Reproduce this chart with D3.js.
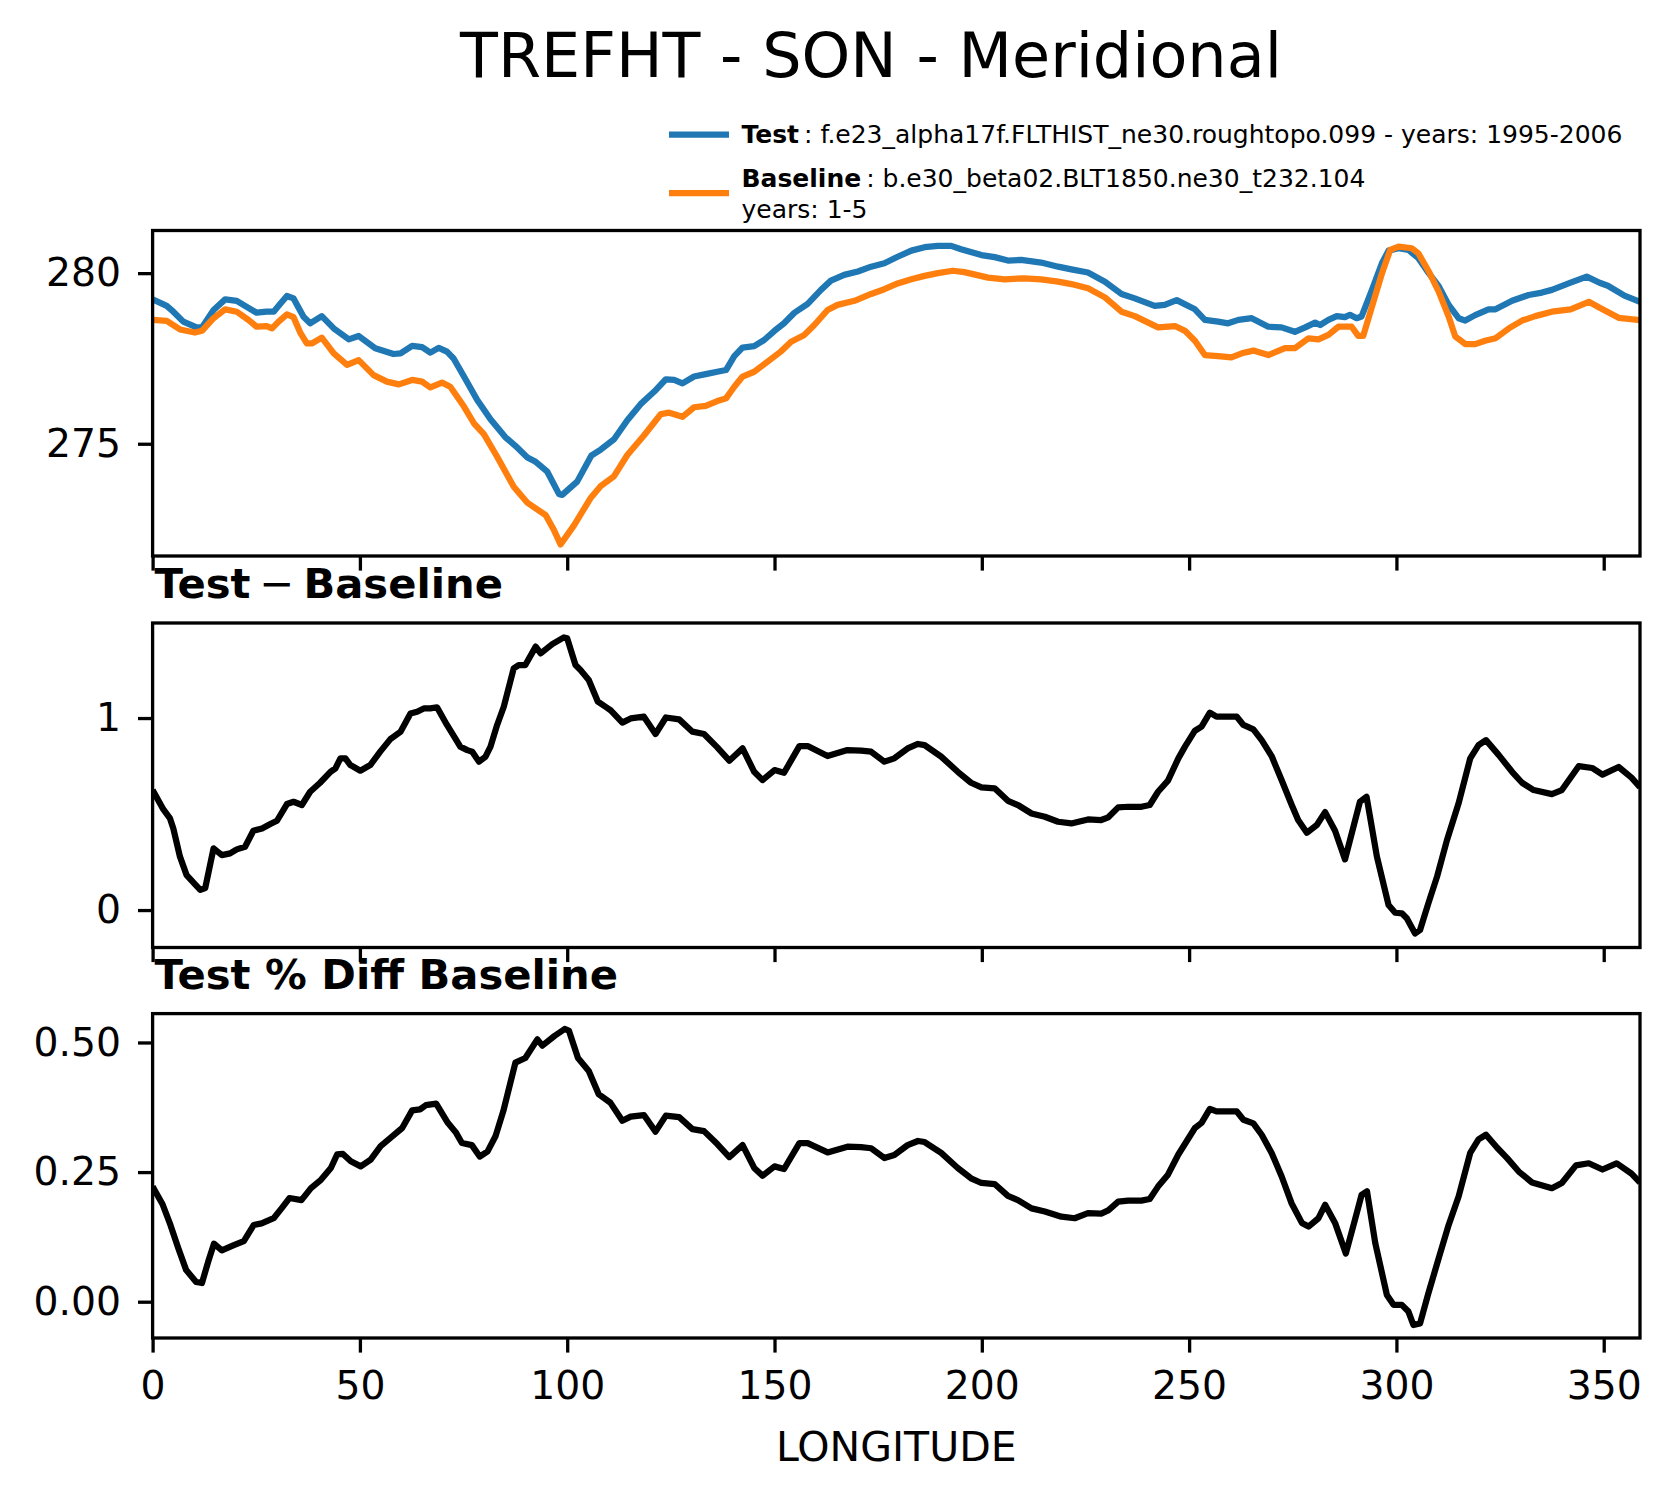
<!DOCTYPE html>
<html>
<head>
<meta charset="utf-8">
<script src="https://cdn.jsdelivr.net/npm/d3@7"></script>
<style>
  body { margin: 0; background: #fff; }
  text { font-family: "DejaVu Sans", sans-serif; }
</style>
</head>
<body>
<div id="chart"></div>
<script>
// longitude ticks
const lonTicks = [0, 50, 100, 150, 200, 250, 300, 350];

// panel 1: TREFHT (K), [longitude, value]
const testT = [[0,279.23],[3.4,279.04],[5,278.87],[7.4,278.58],[10.6,278.41],[11.9,278.41],[14.7,278.92],[17.5,279.23],[20.3,279.19],[22.3,279.04],[25.1,278.84],[27.5,278.87],[29.2,278.87],[30.8,279.1],[32.4,279.33],[34,279.26],[36.4,278.72],[38,278.53],[40.8,278.74],[43.7,278.38],[47.3,278.06],[49.7,278.16],[53.7,277.8],[58.1,277.63],[59.8,277.65],[62.6,277.87],[65,277.83],[67,277.67],[69,277.81],[71,277.7],[72.6,277.5],[75.1,276.97],[78.3,276.28],[81.5,275.72],[85.1,275.19],[87.5,274.94],[90.4,274.6],[92.4,274.47],[95.2,274.18],[98,273.53],[98.8,273.5],[102.4,273.89],[105.8,274.65],[108.1,274.83],[111.3,275.13],[114.5,275.69],[117.7,276.16],[121,276.53],[123.8,276.89],[125.8,276.87],[127.8,276.77],[130.6,276.97],[133.4,277.04],[136.2,277.11],[138.3,277.16],[140.3,277.57],[142.3,277.82],[145.1,277.86],[147.5,278.04],[150,278.31],[152.3,278.53],[154.8,278.84],[158,279.1],[161.2,279.51],[163.6,279.78],[166.8,279.95],[170.1,280.05],[173.3,280.19],[176.5,280.29],[179.7,280.48],[183,280.66],[186.2,280.76],[189.4,280.8],[192.6,280.8],[195,280.7],[199.9,280.53],[203.1,280.47],[206.3,280.37],[209.5,280.39],[214.3,280.31],[218.4,280.19],[221.6,280.11],[225.6,280.02],[229.7,279.75],[233.7,279.39],[236.9,279.26],[241.7,279.04],[244.1,279.07],[247,279.21],[251.4,278.94],[253.8,278.63],[257,278.58],[259.4,278.53],[261.9,278.63],[265.1,278.68],[269.1,278.43],[272.3,278.41],[275.5,278.28],[278,278.41],[280.4,278.55],[281.6,278.48],[283.6,278.63],[285.6,278.74],[287.6,278.71],[288.8,278.78],[290.4,278.68],[291.6,278.73],[294.1,279.51],[296.5,280.29],[298.1,280.66],[300.5,280.73],[302.9,280.68],[305.3,280.44],[307.8,280],[310.2,279.62],[312.6,279.07],[315,278.68],[316.6,278.61],[319,278.77],[322.2,278.94],[323.9,278.94],[327.9,279.19],[331.9,279.36],[335.1,279.43],[337.5,279.51],[342,279.72],[345.9,279.9],[349,279.72],[351,279.63],[355,279.34],[358.75,279.16]];

const baseT = [[0,278.63],[3.4,278.6],[6.6,278.35],[10.2,278.26],[11.9,278.31],[14.7,278.68],[17.5,278.94],[20.3,278.87],[23.1,278.63],[25.1,278.43],[27.5,278.45],[28.8,278.38],[30.4,278.58],[32.4,278.79],[34,278.71],[35.6,278.26],[37.2,277.94],[38.4,277.94],[40.8,278.11],[43.7,277.65],[46.9,277.31],[49.7,277.45],[53.3,277.01],[56.5,276.82],[59.4,276.74],[62.6,276.87],[65,276.82],[67,276.65],[69.8,276.79],[71.8,276.67],[75.1,276.09],[77.5,275.6],[79.9,275.28],[83.1,274.62],[87.1,273.74],[90.4,273.27],[94.8,272.91],[96.8,272.47],[98.4,272.05],[101.6,272.6],[105.6,273.4],[108.1,273.76],[111.3,274.05],[114.5,274.67],[118.5,275.24],[122.6,275.87],[124.6,275.91],[127.8,275.79],[130.6,276.07],[133.4,276.11],[136.2,276.25],[138.3,276.33],[140.3,276.67],[142.3,276.97],[145.1,277.11],[148.3,277.4],[151.5,277.7],[154,277.99],[157.2,278.19],[159.6,278.48],[162.8,278.92],[165.2,279.07],[169.3,279.19],[173.3,279.39],[176.5,279.53],[179.7,279.7],[183,279.82],[186.2,279.92],[189.4,280],[193,280.07],[195.8,280.03],[201.5,279.87],[205.5,279.82],[210.3,279.85],[214.3,279.82],[218.4,279.75],[221.6,279.68],[225.6,279.56],[229.7,279.29],[233.7,278.87],[236.9,278.74],[242.5,278.41],[246.6,278.45],[249,278.31],[251.4,278.02],[253.8,277.6],[257,277.57],[260.2,277.53],[262.7,277.65],[265.5,277.73],[269.1,277.6],[273.1,277.8],[275.5,277.8],[278.8,278.09],[281.2,278.06],[283.6,278.19],[286,278.43],[289.2,278.43],[290.8,278.16],[292,278.16],[294.1,279.02],[296.5,279.99],[298.5,280.68],[300.5,280.78],[303.7,280.73],[305.3,280.58],[307.8,280.05],[310.2,279.46],[312.6,278.73],[314.2,278.14],[316.6,277.92],[319,277.92],[321.4,278.02],[323.9,278.09],[327.1,278.38],[330.3,278.61],[333.5,278.74],[337.5,278.87],[342,278.94],[346.4,279.16],[349.7,278.94],[353.6,278.69],[358.75,278.62]];

// panel 2: Test - Baseline
const diffT = [[0,0.625],[2.6,0.524],[4.2,0.477],[5,0.425],[6.6,0.278],[8.2,0.182],[10.2,0.135],[11.5,0.105],[12.7,0.115],[14.7,0.321],[16.7,0.286],[18.7,0.295],[20.3,0.316],[22.3,0.33],[24.3,0.413],[26.4,0.425],[28.4,0.448],[30,0.465],[32.4,0.552],[34,0.564],[36,0.547],[38,0.616],[40.4,0.663],[42.9,0.72],[44.1,0.738],[45.3,0.79],[46.5,0.79],[47.7,0.755],[50.1,0.726],[52.5,0.755],[54.9,0.825],[57.3,0.889],[59.8,0.929],[62.2,1.024],[63.8,1.033],[65.4,1.05],[67,1.05],[68.6,1.056],[71,0.964],[73,0.894],[74.2,0.851],[75.9,0.833],[77.1,0.825],[78.7,0.773],[80.3,0.799],[81.5,0.851],[83.1,0.964],[84.7,1.059],[87.1,1.259],[88.3,1.276],[89.9,1.276],[92.4,1.372],[93.6,1.337],[96.4,1.385],[99.2,1.42],[100,1.415],[102,1.276],[103.2,1.25],[105.2,1.198],[107.4,1.085],[109.5,1.055],[110.5,1.04],[113.3,0.976],[115.3,0.998],[118.5,1.007],[121.3,0.917],[123.8,1.003],[127,0.993],[130.2,0.929],[133,0.917],[136.2,0.847],[139.1,0.778],[142.3,0.842],[145.1,0.72],[147.1,0.677],[150,0.729],[152.3,0.715],[156,0.854],[158,0.854],[162.8,0.802],[167.6,0.833],[170.9,0.83],[173.3,0.825],[176.5,0.773],[178.9,0.79],[182.1,0.842],[184.6,0.865],[186.2,0.859],[190.2,0.799],[194.2,0.72],[197.4,0.663],[199.9,0.639],[203.1,0.634],[206.3,0.569],[208.7,0.547],[212,0.503],[215.2,0.486],[218.4,0.46],[221.6,0.451],[225.6,0.472],[228.8,0.469],[230.5,0.483],[232.9,0.535],[235.3,0.538],[238.5,0.538],[240.5,0.547],[242.5,0.616],[244.9,0.674],[247.4,0.79],[249,0.851],[251.4,0.934],[253,0.955],[255,1.028],[256.6,1.007],[261.5,1.007],[263.1,0.964],[265.5,0.941],[267.5,0.885],[269.9,0.802],[272.3,0.677],[274.7,0.55],[276.3,0.469],[278.4,0.403],[280.8,0.443],[282.8,0.51],[285.2,0.413],[287.6,0.264],[291.2,0.564],[292.8,0.59],[295.3,0.278],[298.1,0.026],[299.7,-0.014],[301.3,-0.017],[302.5,-0.043],[304.5,-0.122],[305.7,-0.104],[307.7,0.035],[309.8,0.174],[312.2,0.365],[315,0.556],[317.8,0.79],[319.8,0.859],[321.6,0.885],[324.7,0.807],[327.9,0.72],[330.3,0.663],[333.1,0.625],[337.5,0.604],[339.9,0.625],[344,0.75],[347.2,0.74],[349.7,0.705],[353.6,0.745],[356.7,0.69],[358.75,0.64]];

// panel 3: Test % Diff Baseline
const pctT = [[0,0.222],[2.4,0.188],[4.3,0.148],[6.2,0.103],[8.1,0.061],[10.5,0.038],[11.9,0.036],[13.4,0.077],[14.8,0.112],[16.7,0.099],[19.6,0.109],[22,0.117],[24.4,0.148],[26.3,0.151],[29.2,0.161],[31.1,0.18],[33,0.2],[35.9,0.196],[38.2,0.219],[40.6,0.235],[43,0.258],[44.5,0.284],[45.9,0.285],[47.8,0.271],[50.2,0.261],[52.6,0.274],[55,0.3],[57.8,0.319],[60.2,0.335],[62.6,0.369],[64.5,0.371],[65.9,0.379],[68.4,0.382],[71.2,0.345],[73.1,0.327],[74.6,0.306],[77,0.302],[78.9,0.28],[80.8,0.29],[82.7,0.319],[84.6,0.368],[87.5,0.461],[89.9,0.47],[92.8,0.506],[94,0.494],[97,0.513],[99.4,0.526],[100.4,0.523],[102.6,0.47],[105.2,0.445],[107.6,0.4],[110.4,0.384],[113.3,0.349],[115.3,0.357],[118.5,0.36],[121.3,0.328],[123.8,0.359],[127,0.356],[130.2,0.333],[133,0.329],[136.2,0.304],[139.1,0.279],[142.3,0.302],[145.1,0.258],[147.1,0.243],[150,0.261],[152.3,0.256],[156,0.306],[158,0.306],[162.8,0.288],[167.6,0.299],[170.9,0.298],[173.3,0.296],[176.5,0.277],[178.9,0.283],[182.1,0.302],[184.6,0.31],[186.2,0.308],[190.2,0.287],[194.2,0.258],[197.4,0.238],[199.9,0.229],[203.1,0.227],[206.3,0.204],[208.7,0.196],[212,0.18],[215.2,0.174],[219.2,0.164],[222.4,0.161],[225.6,0.171],[228.8,0.17],[230.5,0.176],[232.9,0.193],[235.3,0.195],[238.5,0.195],[240.5,0.198],[242.5,0.222],[244.9,0.245],[247.4,0.284],[251.4,0.335],[253,0.345],[255,0.372],[256.6,0.367],[261.5,0.367],[263.1,0.351],[265.5,0.344],[267.5,0.322],[269.9,0.287],[272.3,0.242],[274.7,0.19],[277.2,0.152],[278.8,0.145],[281.2,0.161],[282.8,0.187],[285.2,0.152],[287.8,0.093],[290,0.158],[291.6,0.206],[292.9,0.213],[294.9,0.113],[297.7,0.013],[299.3,-0.006],[301.3,-0.006],[302.9,-0.019],[304.1,-0.045],[305.7,-0.042],[307.7,0.016],[310.2,0.084],[312.6,0.148],[315,0.203],[317.8,0.287],[319.8,0.313],[321.6,0.322],[324.3,0.297],[326.7,0.277],[329.5,0.251],[332.7,0.23],[337.5,0.219],[339.9,0.229],[343.3,0.263],[346.4,0.267],[349.7,0.255],[353.1,0.267],[356.7,0.247],[358.75,0.23]];

const trefTicks = [275, 280];
const diffTicks = [0, 1];
const pctTicks = [0, 0.25, 0.5];

const W = 1673, H = 1496;
const left = 152.6, right = 1640;
const lw = 6.25, spineW = 3.3, tickLen = 14.6;
const tickFont = "39.3px";

let svg = d3.select("#chart").append("svg")
    .attr("width", W).attr("height", H)
    .attr("viewBox", "0 0 " + W + " " + H);

svg.append("rect").attr("width", W).attr("height", H).attr("fill", "#fff");

let x = d3.scaleLinear().domain([0, 358.75]).range([left, right]);

function drawPanel(id, top, bottom, yDomain, yTicks, fmt, series, showX) {
    let y = d3.scaleLinear().domain(yDomain).range([bottom, top]);
    let g = svg.append("g");

    g.append("clipPath").attr("id", "clip" + id)
        .append("rect")
        .attr("x", left).attr("y", top)
        .attr("width", right - left).attr("height", bottom - top);

    let line = d3.line()
        .x(function(d) { return x(d[0]); })
        .y(function(d) { return y(d[1]); });

    series.forEach(function(s) {
        g.append("path")
            .datum(s.data)
            .attr("clip-path", "url(#clip" + id + ")")
            .attr("fill", "none")
            .attr("stroke", s.color)
            .attr("stroke-width", lw)
            .attr("stroke-linejoin", "round")
            .attr("d", line);
    });

    // y axis
    let ya = g.append("g")
        .attr("transform", "translate(" + left + ",0)")
        .call(d3.axisLeft(y).tickValues(yTicks).tickFormat(fmt)
            .tickSize(tickLen).tickPadding(17).tickSizeOuter(0));
    ya.select(".domain").remove();
    ya.selectAll("line").attr("stroke-width", spineW);
    ya.selectAll("text").attr("font-size", tickFont).attr("fill", "#000")
        .attr("font-family", "DejaVu Sans");

    // x axis
    let xa = g.append("g")
        .attr("transform", "translate(0," + bottom + ")")
        .call(d3.axisBottom(x).tickValues(lonTicks).tickFormat(showX ? d3.format("d") : "")
            .tickSize(tickLen).tickPadding(18).tickSizeOuter(0));
    xa.select(".domain").remove();
    xa.selectAll("line").attr("stroke-width", spineW);
    xa.selectAll("text").attr("font-size", tickFont).attr("fill", "#000")
        .attr("font-family", "DejaVu Sans");

    // spines
    g.append("rect")
        .attr("x", left).attr("y", top)
        .attr("width", right - left).attr("height", bottom - top)
        .attr("fill", "none").attr("stroke", "#000").attr("stroke-width", spineW);

    return g;
}

drawPanel(1, 230.5, 556, [271.71, 281.25], trefTicks, d3.format("d"),
    [{data: testT, color: "#1f77b4"}, {data: baseT, color: "#ff7f0e"}], false);
drawPanel(2, 623, 947.5, [-0.195, 1.495], diffTicks, d3.format("d"),
    [{data: diffT, color: "#000"}], false);
drawPanel(3, 1013.6, 1338, [-0.070, 0.5557], pctTicks, d3.format(".2f"),
    [{data: pctT, color: "#000"}], true);

// panel titles, left aligned
let st2 = svg.append("text")
    .attr("x", left + 2).attr("y", 623 - 25)
    .attr("font-size", "41.7px").attr("font-weight", "bold");
st2.append("tspan").text("Test");
st2.append("tspan").attr("dx", 9).attr("font-weight", "normal").text("\u2212");
st2.append("tspan").attr("dx", 9).text("Baseline");

svg.append("text")
    .attr("x", left + 2).attr("y", 1013.6 - 25)
    .attr("font-size", "41.7px").attr("font-weight", "bold")
    .text("Test % Diff Baseline");

// figure title
svg.append("text")
    .attr("x", 871).attr("y", 77)
    .attr("text-anchor", "middle")
    .attr("font-size", "62px")
    .text("TREFHT - SON - Meridional");

// x label
svg.append("text")
    .attr("x", (left + right) / 2).attr("y", 1461)
    .attr("text-anchor", "middle")
    .attr("font-size", "41px")
    .text("LONGITUDE");

// legend
let legend = svg.append("g");
legend.append("line")
    .attr("x1", 669).attr("x2", 729).attr("y1", 134.5).attr("y2", 134.5)
    .attr("stroke", "#1f77b4").attr("stroke-width", lw);
legend.append("line")
    .attr("x1", 669).attr("x2", 729).attr("y1", 193).attr("y2", 193)
    .attr("stroke", "#ff7f0e").attr("stroke-width", lw);

let t1 = legend.append("text").attr("x", 741.5).attr("y", 143).attr("font-size", "25px");
t1.append("tspan").attr("font-weight", "bold").text("Test");
t1.append("tspan").text("\u2009: f.e23_alpha17f.FLTHIST_ne30.roughtopo.099 - years: 1995-2006");

let t2 = legend.append("text").attr("x", 741.5).attr("y", 187).attr("font-size", "25px");
t2.append("tspan").attr("font-weight", "bold").text("Baseline");
t2.append("tspan").text("\u2009: b.e30_beta02.BLT1850.ne30_t232.104");
legend.append("text").attr("x", 741.5).attr("y", 218).attr("font-size", "25px")
    .text("years: 1-5");
</script>
</body>
</html>
